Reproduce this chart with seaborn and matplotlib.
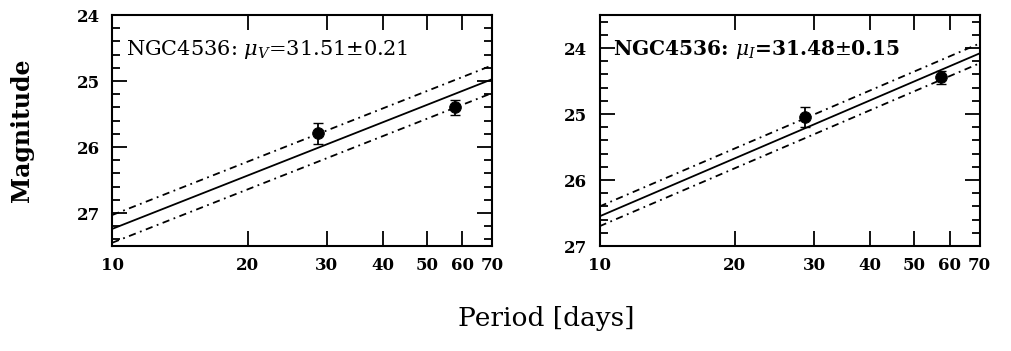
import numpy as np
import pandas as pd
import matplotlib
matplotlib.use("Agg")
import matplotlib.pyplot as plt
import seaborn as sns
from matplotlib.ticker import FixedLocator, MultipleLocator, NullLocator

# Cepheid data
period_v = [28.7, 57.8]
mag_v = [25.79, 25.40]
err_v = [0.16, 0.12]

period_i = [28.6, 57.5]
mag_i = [25.05, 24.44]
err_i = [0.15, 0.10]

# PL relation (line end points at P=10 and P=70) and band widths
fit_period = [10, 70]
fit_v = [27.24, 24.97]
fit_i = [26.55, 24.08]
width_v = 0.21
width_i = 0.15

labels = [r"NGC4536: $\mu_V$=31.51$\pm$0.21", r"NGC4536: $\mu_I$=31.48$\pm$0.15"]
xticks = [10, 20, 30, 40, 50, 60, 70]

sns.set_style("ticks")
plt.rcParams["font.family"] = ["DejaVu Serif"]
plt.rcParams["mathtext.fontset"] = "dejavuserif"
for k in ("text.color", "axes.labelcolor", "xtick.color", "ytick.color", "axes.edgecolor"):
    plt.rcParams[k] = "black"


def panel(ax, per, mag, err, fit, width, text, ylim, yticks, weight, size):
    fit_df = pd.DataFrame({"P": fit_period, "m": fit})
    sns.lineplot(data=fit_df, x="P", y="m", ax=ax, color="black", lw=1.3)
    for off in (-width, width):
        sns.lineplot(x=fit_period, y=np.array(fit) + off, ax=ax, color="black",
                     lw=1.3, linestyle=(0, (4, 2.5, 1, 2.5)))
    ax.errorbar(per, mag, yerr=err, fmt="none", ecolor="black", capsize=3.5, lw=1.3)
    sns.scatterplot(x=per, y=mag, ax=ax, color="black", s=70, edgecolor="black", zorder=5)
    ax.set_xscale("log")
    ax.set_xlim(10, 70)
    ax.set_ylim(*ylim)
    ax.xaxis.set_major_locator(FixedLocator(xticks))
    ax.xaxis.set_minor_locator(NullLocator())
    ax.set_xticklabels([str(t) for t in xticks])
    ax.yaxis.set_major_locator(FixedLocator(yticks))
    ax.yaxis.set_minor_locator(MultipleLocator(0.2))
    ax.tick_params(which="both", direction="in", top=True, right=True, labelsize=12)
    ax.tick_params(which="major", length=11, width=1.3)
    ax.tick_params(which="minor", length=6, width=1.3)
    ax.tick_params(axis="x", pad=8)
    ax.tick_params(axis="y", pad=9)
    for lab in ax.get_xticklabels() + ax.get_yticklabels():
        lab.set_fontweight("bold")
    for s in ax.spines.values():
        s.set_linewidth(1.5)
    ax.set_xlabel("")
    ax.set_ylabel("")
    ax.text(0.035, 0.85, text, transform=ax.transAxes, fontsize=size, va="center",
            fontweight=weight)


fig = plt.figure(figsize=(10.11, 3.51), dpi=100)
ax1 = fig.add_axes([0.111, 0.299, 0.376, 0.658])
ax2 = fig.add_axes([0.593, 0.299, 0.376, 0.658])

panel(ax1, period_v, mag_v, err_v, fit_v, width_v, labels[0], (27.5, 24.0), [24, 25, 26, 27],
      "normal", 15)
panel(ax2, period_i, mag_i, err_i, fit_i, width_i, labels[1], (27.0, 23.5), [24, 25, 26, 27],
      "bold", 14.5)

fig.text(0.022, 0.63, "Magnitude", rotation=90, ha="center", va="center", fontsize=17,
         fontweight="bold")
fig.text(0.54, 0.094, "Period [days]", ha="center", va="center", fontsize=19)

plt.savefig("out.png", dpi=100)
plt.close()
